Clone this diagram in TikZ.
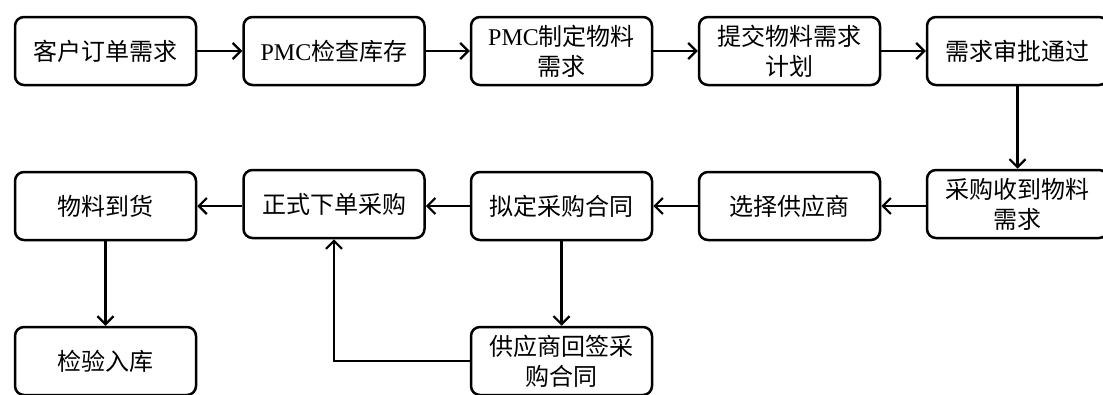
\documentclass[tikz,border=0pt]{standalone}
\usepackage{fontspec}
\setmainfont{Liberation Serif}
\newfontfamily\cjk{Noto Sans CJK SC}
\usetikzlibrary{arrows.meta}
\begin{document}
\begin{tikzpicture}[x=1pt,y=-1pt,
  box/.style={draw, line width=2.5pt, rounded corners=9pt, minimum width=181pt,
    minimum height=68pt, align=center, inner sep=0pt,
    font=\fontsize{24}{30}\selectfont\cjk},
  arr/.style={line width=2.2pt, -{Straight Barb[length=8pt,width=16pt,line width=2.2pt]}}]
\useasboundingbox (0,0) rectangle (1103,394);
\clip (0,0) rectangle (1103,394);
% row 1
\node[box] (n1) at (105.5,51) {客户订单需求};
\node[box] (n2) at (334,51) {{\rmfamily PMC}检查库存};
\node[box] (n3) at (561.5,51) {{\rmfamily PMC}制定物料\\需求};
\node[box] (n4) at (789.5,51) {提交物料需求\\计划};
\node[box] (n5) at (1017.5,51) {需求审批通过};
% row 2
\node[box] (m5) at (1017.5,204) {采购收到物料\\需求};
\node[box] (m4) at (789.5,206) {选择供应商};
\node[box] (m3) at (561.5,206) {拟定采购合同};
\node[box] (m2) at (334,204) {正式下单采购};
\node[box] (m1) at (105.5,206) {物料到货};
% row 3
\node[box] (b1) at (105.5,361) {检验入库};
\node[box] (b3) at (561.5,361) {供应商回签采\\购合同};
% connectors
\draw[arr] (n1) -- (n2);
\draw[arr] (n2) -- (n3);
\draw[arr] (n3) -- (n4);
\draw[arr] (n4) -- (n5);
\draw[arr] (n5) -- (m5);
\draw[arr] (m5.west |- m4.east) -- (m4.east);
\draw[arr] (m4) -- (m3);
\draw[arr] (m3.west) -- (m2.east |- m3.west);
\draw[arr] (m2.west |- m1.east) -- (m1.east);
\draw[arr] (m1) -- (b1);
\draw[arr] (m3) -- (b3);
\draw[arr] (b3.west) -| (m2.south);
\end{tikzpicture}
\end{document}
